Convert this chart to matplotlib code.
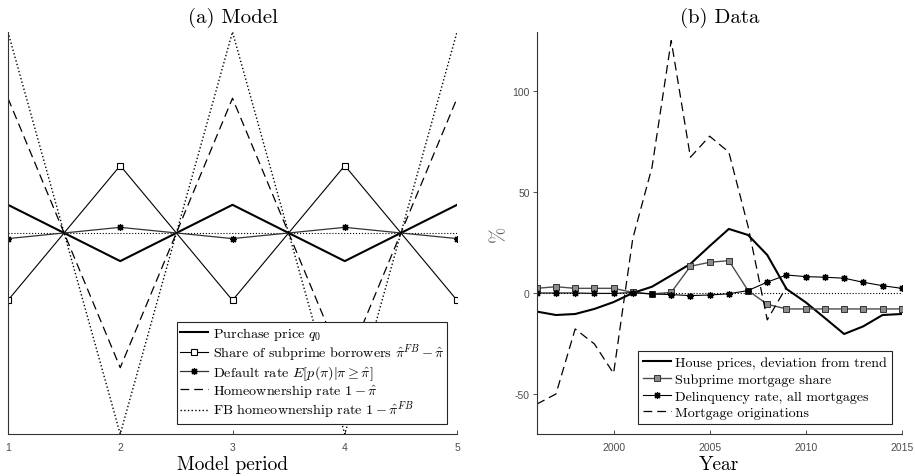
import numpy as np
import matplotlib
matplotlib.use("Agg")
import matplotlib.pyplot as plt

plt.rcParams['font.family'] = 'serif'
plt.rcParams['font.serif'] = ['cmr10', 'DejaVu Serif']
plt.rcParams['mathtext.fontset'] = 'cm'
plt.rcParams['axes.unicode_minus'] = False
plt.rcParams['axes.formatter.use_mathtext'] = True

# ---- (a) Model data ----
periods = [1, 2, 3, 4, 5]
purchase_price = [0.14, -0.14, 0.14, -0.14, 0.14]
subprime_share = [-0.335, 0.335, -0.335, 0.335, -0.335]
default_rate = [-0.028, 0.028, -0.028, 0.028, -0.028]
homeownership = [0.67, -0.67, 0.67, -0.67, 0.67]
fb_homeownership = [1.0, -1.0, 1.0, -1.0, 1.0]

# ---- (b) Data ----
years = list(range(1996, 2016))
house_prices = [-9.2, -10.9, -10.4, -7.9, -4.5, 0.0, 3.1, 8.7, 14.4, 23.2, 31.7, 28.7,
                18.8, 2.0, -4.6, -12.4, -20.3, -16.5, -10.9, -10.4]
subprime = [2.3, 3.1, 2.3, 2.3, 2.3, 0.3, -0.5, 0.3, 13.2, 15.2, 16.0, 1.2,
            -5.6, -7.9, -7.9, -7.9, -7.9, -7.9, -7.9, -7.9]
delinquency = [0.0, 0.0, 0.0, -0.2, -0.2, 0.2, -0.5, -0.8, -1.3, -1.0, -0.4, 1.2,
               5.4, 8.9, 8.1, 7.8, 7.3, 5.3, 3.6, 2.3]
originations = [-55.0, -50.0, -17.8, -25.2, -39.8, 27.0, 62.2, 124.9, 67.2, 77.6, 69.7, 33.0,
                -13.3, 3.0, np.nan, np.nan, np.nan, np.nan, np.nan, np.nan]

tick_font = dict(family='Liberation Sans', size=7.5, color='0.3')
star = (8, 2, 0)   # asterisk marker

fig = plt.figure(figsize=(9.15, 4.77), dpi=100)
ax1 = fig.add_axes([0.0087, 0.088, 0.4908, 0.843])
ax2 = fig.add_axes([0.5866, 0.088, 0.3989, 0.843])

# ---- left panel ----
ax1.plot([1, 5], [0, 0], ':', color='k', lw=0.8)
ax1.plot(periods, purchase_price, '-', color='k', lw=1.5, label='Purchase price $q_0$')
ax1.plot(periods, subprime_share, '-', color='k', lw=0.8, marker='s', ms=4,
         mfc='white', mec='k', mew=0.8,
         label=r'Share of subprime borrowers $\hat{\pi}^{FB}-\hat{\pi}$')
ax1.plot(periods, default_rate, '-', color='0.2', lw=0.9, marker=star, ms=5,
         mfc='k', mec='k', mew=0.9, label=r'Default rate $E[p(\pi)|\pi \geq \hat{\pi}]$')
ax1.plot(periods, homeownership, '--', color='k', lw=0.9, dashes=(7, 4),
         label=r'Homeownership rate $1-\hat{\pi}$')
ax1.plot(periods, fb_homeownership, ':', color='k', lw=1.0,
         label=r'FB homeownership rate $1-\hat{\pi}^{FB}$')
ax1.set_xlim(1, 5)
ax1.set_ylim(-1, 1)
ax1.set_xticks(periods)
ax1.set_xticklabels([str(p) for p in periods], fontdict=tick_font)
ax1.set_yticks([])
ax1.tick_params(axis='x', direction='in', length=3, width=0.6, color='0.2', pad=6)
ax1.set_title('(a) Model', fontsize=15, pad=7)
ax1.set_xlabel('Model period', fontsize=14, labelpad=2)
leg1 = ax1.legend(loc='lower right', fontsize=10.2, frameon=True, fancybox=False,
                  framealpha=1, edgecolor='0.15', handlelength=2.0, handletextpad=0.3,
                  borderpad=0.2, labelspacing=0.0, borderaxespad=0.7)
leg1.get_frame().set_linewidth(0.8)

# ---- right panel ----
ax2.plot([1996, 2015], [0, 0], ':', color='k', lw=0.8)
ax2.plot(years, house_prices, '-', color='k', lw=1.5, label='House prices, deviation from trend')
ax2.plot(years, subprime, '-', color='0.3', lw=1.0, marker='s', ms=4,
         mfc='0.55', mec='0.2', mew=0.7, label='Subprime mortgage share')
ax2.plot(years, delinquency, '-', color='k', lw=0.8, marker=star, ms=5,
         mfc='k', mec='k', mew=0.9, label='Delinquency rate, all mortgages')
ax2.plot(years, originations, '--', color='k', lw=0.9, dashes=(7, 4),
         label='Mortgage originations')
ax2.set_xlim(1996, 2015)
ax2.set_ylim(-69.8, 129.2)
ax2.set_xticks([2000, 2005, 2010, 2015])
ax2.set_xticklabels(['2000', '2005', '2010', '2015'], fontdict=tick_font)
ax2.set_yticks([-50, 0, 50, 100])
ax2.set_yticklabels(['-50', '0', '50', '100'], fontdict=tick_font)
ax2.tick_params(axis='x', direction='in', length=3, width=0.6, color='0.2', pad=6)
ax2.tick_params(axis='y', direction='out', length=3, width=0.6, color='0.2', pad=2)
ax2.set_title('(b) Data', fontsize=15, pad=7)
ax2.set_xlabel('Year', fontsize=14, labelpad=2)
ax2.set_ylabel('%', fontsize=14, color='0.35', labelpad=3)
leg2 = ax2.legend(loc='lower right', fontsize=10.1, frameon=True, fancybox=False,
                  framealpha=1, edgecolor='0.15', handlelength=2.0, handletextpad=0.3,
                  borderpad=0.35, labelspacing=0.28, borderaxespad=0.7)
leg2.get_frame().set_linewidth(0.8)

for ax in (ax1, ax2):
    ax.spines['top'].set_visible(False)
    ax.spines['right'].set_visible(False)
    ax.spines['left'].set_color('0.2')
    ax.spines['bottom'].set_color('0.2')
    ax.spines['left'].set_linewidth(0.8)
    ax.spines['bottom'].set_linewidth(0.8)

fig.savefig('out.png', dpi=100)
